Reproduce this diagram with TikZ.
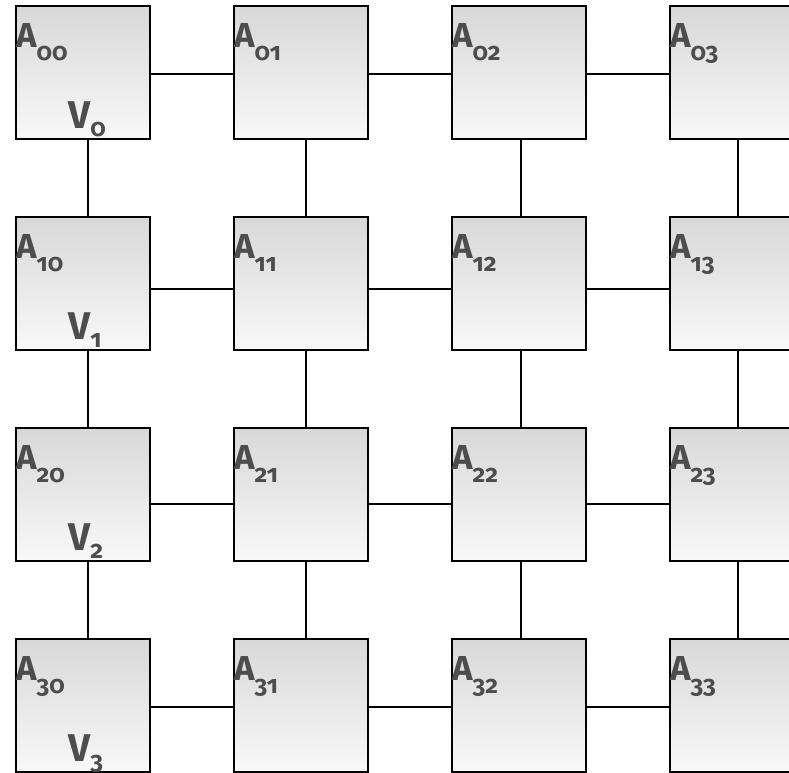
\documentclass[tikz,border=0pt]{standalone}
\usepackage{fontspec}
\setmainfont{Fira Sans}[Numbers=OldStyle]
\usepackage{tikz}
\usetikzlibrary{positioning}

\definecolor{boxtop}{RGB}{216,216,216}
\definecolor{boxbot}{RGB}{248,248,248}
\definecolor{labgray}{RGB}{77,77,77}

\newcommand{\Alab}[1]{{\fontsize{26}{26}\selectfont A}\raisebox{-9.75pt}{\fontsize{18.5}{18.5}\selectfont #1}}
\newcommand{\Vlab}[1]{{\fontsize{29}{29}\selectfont V}\raisebox{-6.5pt}{\fontsize{18.5}{18.5}\selectfont #1}}

\begin{document}
\begin{tikzpicture}[
    cella/.style={draw, line width=1.4pt, top color=boxtop, bottom color=boxbot,
      minimum width=100.5pt, minimum height=99.75pt, inner sep=0pt, outer sep=0pt},
    nome/.style={anchor=north west, inner sep=0pt, font=\bfseries, text=labgray},
    vett/.style={anchor=base west, inner sep=0pt, font=\bfseries, text=labgray},
    filo/.style={line width=1.4pt},
    node distance=58.5pt and 63pt]
    \useasboundingbox (0,0) rectangle (591.75pt,-579pt);

    % Prima riga
    \node [cella, anchor=north west] (A00) at (12pt,-4.5pt) {};
    \node [cella, right=of A00] (A01) {};
    \node [cella, right=of A01] (A02) {};
    \node [cella, right=of A02] (A03) {};

    % Righe sotto (posizionate sotto la prima colonna)
    \node [cella, below=of A00] (A10) {};
    \node [cella, right=of A10] (A11) {};
    \node [cella, right=of A11] (A12) {};
    \node [cella, right=of A12] (A13) {};

    \node [cella, below=of A10] (A20) {};
    \node [cella, right=of A20] (A21) {};
    \node [cella, right=of A21] (A22) {};
    \node [cella, right=of A22] (A23) {};

    \node [cella, below=of A20] (A30) {};
    \node [cella, right=of A30] (A31) {};
    \node [cella, right=of A31] (A32) {};
    \node [cella, right=of A32] (A33) {};

    % Nomi delle celle
    \node [nome] (tA00) at ([yshift=-12.75pt]A00.north west) {\Alab{00}};
    \node [nome] (tA01) at ([yshift=-12.75pt]A01.north west) {\Alab{01}};
    \node [nome] (tA02) at ([yshift=-12.75pt]A02.north west) {\Alab{02}};
    \node [nome] (tA03) at ([yshift=-12.75pt]A03.north west) {\Alab{03}};
    \node [nome] (tA10) at ([yshift=-12.75pt]A10.north west) {\Alab{10}};
    \node [nome] (tA11) at ([yshift=-12.75pt]A11.north west) {\Alab{11}};
    \node [nome] (tA12) at ([yshift=-12.75pt]A12.north west) {\Alab{12}};
    \node [nome] (tA13) at ([yshift=-12.75pt]A13.north west) {\Alab{13}};
    \node [nome] (tA20) at ([yshift=-12.75pt]A20.north west) {\Alab{20}};
    \node [nome] (tA21) at ([yshift=-12.75pt]A21.north west) {\Alab{21}};
    \node [nome] (tA22) at ([yshift=-12.75pt]A22.north west) {\Alab{22}};
    \node [nome] (tA23) at ([yshift=-12.75pt]A23.north west) {\Alab{23}};
    \node [nome] (tA30) at ([yshift=-12.75pt]A30.north west) {\Alab{30}};
    \node [nome] (tA31) at ([yshift=-12.75pt]A31.north west) {\Alab{31}};
    \node [nome] (tA32) at ([yshift=-12.75pt]A32.north west) {\Alab{32}};
    \node [nome] (tA33) at ([yshift=-12.75pt]A33.north west) {\Alab{33}};

    % Vettori nella prima colonna
    \node [vett] (tV0) at ([xshift=39pt,yshift=8.25pt]A00.south west) {\Vlab{0}};
    \node [vett] (tV1) at ([xshift=39pt,yshift=8.25pt]A10.south west) {\Vlab{1}};
    \node [vett] (tV2) at ([xshift=39pt,yshift=8.25pt]A20.south west) {\Vlab{2}};
    \node [vett] (tV3) at ([xshift=39pt,yshift=8.25pt]A30.south west) {\Vlab{3}};

    % Collegamenti orizzontali (un po' sotto il centro)
    \draw [filo] ([yshift=-1.1pt]A00.east) -- ([yshift=-1.1pt]A01.west)
                 ([yshift=-1.1pt]A01.east) -- ([yshift=-1.1pt]A02.west)
                 ([yshift=-1.1pt]A02.east) -- ([yshift=-1.1pt]A03.west);
    \draw [filo] ([yshift=-4.1pt]A10.east) -- ([yshift=-4.1pt]A11.west)
                 ([yshift=-4.1pt]A11.east) -- ([yshift=-4.1pt]A12.west)
                 ([yshift=-4.1pt]A12.east) -- ([yshift=-4.1pt]A13.west);
    \draw [filo] ([yshift=-7.1pt]A20.east) -- ([yshift=-7.1pt]A21.west)
                 ([yshift=-7.1pt]A21.east) -- ([yshift=-7.1pt]A22.west)
                 ([yshift=-7.1pt]A22.east) -- ([yshift=-7.1pt]A23.west);
    \draw [filo] ([yshift=-1.1pt]A30.east) -- ([yshift=-1.1pt]A31.west)
                 ([yshift=-1.1pt]A31.east) -- ([yshift=-1.1pt]A32.west)
                 ([yshift=-1.1pt]A32.east) -- ([yshift=-1.1pt]A33.west);

    % Collegamenti verticali (un po' a destra del centro)
    \draw [filo] ([xshift=3.75pt]A00.south) -- ([xshift=3.75pt]A10.north)
                 ([xshift=3.75pt]A10.south) -- ([xshift=3.75pt]A20.north)
                 ([xshift=3.75pt]A20.south) -- ([xshift=3.75pt]A30.north);
    \draw [filo] ([xshift=4pt]A01.south) -- ([xshift=4pt]A11.north)
                 ([xshift=4pt]A11.south) -- ([xshift=4pt]A21.north)
                 ([xshift=4pt]A21.south) -- ([xshift=4pt]A31.north);
    \draw [filo] ([xshift=1.5pt]A02.south) -- ([xshift=1.5pt]A12.north)
                 ([xshift=1.5pt]A12.south) -- ([xshift=1.5pt]A22.north)
                 ([xshift=1.5pt]A22.south) -- ([xshift=1.5pt]A32.north);
    \draw [filo] ([xshift=0.75pt]A03.south) -- ([xshift=0.75pt]A13.north)
                 ([xshift=0.75pt]A13.south) -- ([xshift=0.75pt]A23.north)
                 ([xshift=0.75pt]A23.south) -- ([xshift=0.75pt]A33.north);
\end{tikzpicture}
\end{document}
